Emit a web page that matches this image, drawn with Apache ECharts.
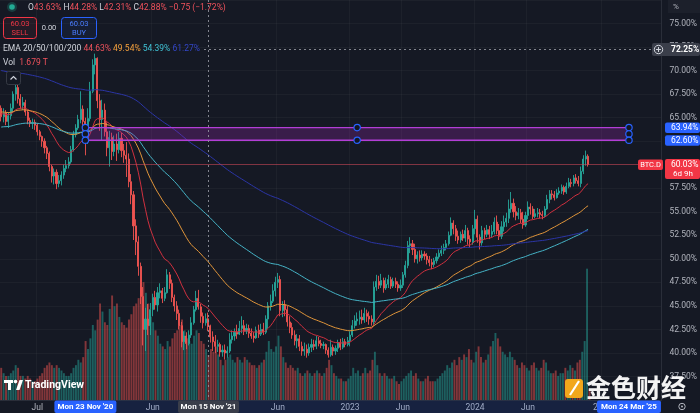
<!DOCTYPE html>
<html>
<head>
<meta charset="utf-8">
<title>BTC.D</title>
<script src="https://cdn.jsdelivr.net/npm/echarts@6.0.0/dist/echarts.min.js"></script>
<style>
html,body{margin:0;padding:0;background:#151924;overflow:hidden;}
#chart{width:700px;height:413px;}
</style>
</head>
<body>
<div id="chart"></div>
<script>
// ---------------- data ----------------
const startWeek = '2020-03-23';
const totalWeeks = 275;
const firstOpen = 66.0;
const closes = [
65.1,65.5,64.6,65.2,66.0,67.5,68.2,67.0,66.3,66.6,
65.6,64.7,64.4,64.5,64.2,63.5,63.0,62.5,61.8,61.2,
59.8,58.8,59.2,58.0,58.3,58.9,59.6,59.9,60.3,61.6,
63.2,63.9,64.8,65.9,64.6,62.6,64.9,67.8,70.6,71.3,
66.8,64.8,65.8,63.5,61.8,62.9,61.4,62.2,61.6,62.8,
61.5,61.0,60.6,58.2,56.8,53.5,51.8,49.2,46.0,42.5,
43.6,42.9,44.6,45.9,45.1,46.4,46.6,45.8,46.4,48.3,
47.4,45.9,45.0,44.2,42.9,41.2,41.8,41.0,41.9,43.2,
44.6,45.8,44.9,43.9,43.2,43.63,42.88,41.7,41.2,40.7,
40.9,40.1,40.3,40.0,40.2,41.4,41.8,42.2,42.0,42.6,
42.9,42.3,42.6,42.1,41.8,41.6,42.4,42.0,42.5,42.2,
43.6,45.0,45.5,46.6,47.5,47.8,44.5,45.1,44.6,43.3,
42.7,41.9,41.3,41.5,40.7,40.2,40.4,40.0,40.6,40.9,
40.7,41.3,41.0,40.8,40.9,40.3,39.8,40.6,40.2,40.5,
41.1,40.6,41.2,40.9,41.3,41.9,42.9,43.4,43.6,43.8,
43.5,44.2,43.9,43.6,43.3,47.0,47.6,47.2,47.7,46.9,
47.3,47.8,47.1,47.6,47.3,46.9,47.2,48.3,49.3,51.4,
51.6,51.0,50.0,50.4,50.1,50.5,50.3,49.9,49.6,49.4,
49.8,50.2,50.6,50.9,51.2,51.6,52.5,53.8,53.2,52.4,
52.0,52.6,52.2,53.0,52.1,51.8,53.2,54.2,52.3,51.7,
53.0,52.6,53.1,52.6,52.9,53.9,53.0,52.4,53.4,53.9,
54.3,55.3,55.9,55.0,54.6,54.9,54.2,53.6,54.6,55.5,
55.3,54.5,54.8,54.9,54.7,54.6,55.3,56.3,56.9,56.8,
56.5,57.0,57.2,57.6,57.1,57.7,58.1,58.0,58.6,58.3,
58.0,59.3,60.6,60.9,60.03];
const highs = [
66.3,66.0,65.8,65.6,66.5,67.8,68.7,68.9,67.5,67.2,
66.9,65.8,65.0,64.9,64.8,64.4,63.7,63.1,62.8,62.0,
61.4,60.0,59.6,59.5,58.9,59.3,60.0,60.5,60.8,62.0,
63.6,64.3,65.3,67.8,66.3,65.0,66.0,68.8,71.2,71.8,
71.4,67.5,66.9,66.5,64.5,63.6,63.4,63.1,63.3,63.5,
63.4,62.2,62.4,61.2,59.0,57.2,54.2,52.4,49.6,47.0,
44.8,45.2,45.3,46.3,46.6,47.0,47.4,46.9,47.0,48.9,
48.6,47.8,46.2,45.5,44.6,43.3,42.3,42.2,42.4,43.8,
45.0,46.6,46.7,45.2,44.3,44.2,44.28,43.0,42.3,41.9,
41.4,41.1,40.8,40.9,40.7,42.1,42.4,42.6,43.0,43.4,
43.9,43.5,43.1,43.0,42.6,42.2,42.8,43.0,43.1,43.2,
44.0,45.4,46.2,47.3,48.1,48.5,48.2,45.5,45.6,45.0,
43.9,43.2,42.4,42.0,41.9,41.2,41.1,40.9,41.0,41.5,
41.4,41.8,41.7,41.4,41.2,41.0,40.6,41.4,40.9,40.8,
41.4,41.5,41.6,41.5,41.7,42.3,43.5,44.0,44.3,44.5,
44.6,44.8,44.6,44.4,44.0,47.6,48.3,48.2,48.4,48.0,
48.0,48.3,48.1,48.0,48.0,47.6,47.8,48.6,49.8,51.9,
52.3,52.0,51.6,50.8,50.9,50.9,50.8,50.6,50.3,50.0,
50.1,50.6,51.0,51.4,51.6,52.0,52.9,54.4,54.1,53.6,
53.0,52.9,53.1,53.6,53.3,52.5,53.6,55.2,54.6,52.6,
53.5,53.3,53.6,53.5,53.6,54.4,54.6,53.7,54.0,54.6,
54.9,56.3,57.1,56.4,55.6,55.4,55.3,55.0,55.0,56.1,
55.9,55.6,55.3,55.4,55.3,55.1,55.6,56.8,57.3,57.3,
57.2,57.4,57.6,57.9,57.8,58.1,58.6,58.5,58.9,59.0,
58.8,59.8,61.0,61.5,61.1];
const lows = [
64.6,64.5,64.2,63.9,64.8,65.5,66.8,66.5,65.9,65.8,
65.2,64.3,64.0,63.8,63.7,63.1,62.6,61.9,61.2,60.6,
59.3,58.1,57.9,57.4,57.6,57.8,58.5,59.2,59.6,60.1,
61.4,62.9,63.7,64.4,63.6,61.0,62.2,64.6,67.6,69.6,
66.0,63.6,62.6,63.0,60.9,59.8,60.5,60.9,60.4,61.2,
60.8,60.2,58.7,57.6,55.8,52.0,50.4,48.2,45.2,40.8,
40.2,41.9,41.9,43.9,44.6,44.4,45.8,45.3,45.5,46.3,
46.8,45.4,44.4,43.5,42.5,40.6,40.3,40.4,40.8,41.6,
43.0,44.4,44.6,43.2,42.6,42.9,42.31,41.1,40.2,40.0,
40.1,39.6,39.6,39.3,39.5,40.0,41.0,41.3,41.5,41.9,
42.1,41.9,42.0,41.6,41.5,41.1,41.5,41.6,41.8,41.9,
42.0,42.6,44.5,45.3,46.0,46.9,43.9,43.8,43.9,42.8,
42.1,41.5,40.8,40.5,40.2,39.7,39.7,39.5,39.7,40.1,
40.3,40.4,40.7,40.5,40.4,39.9,39.5,39.6,39.7,39.8,
40.1,40.3,40.4,40.6,40.7,40.7,41.7,42.6,42.9,43.0,
43.1,43.2,43.3,43.0,42.9,43.0,46.6,46.8,46.9,46.4,
46.7,46.9,46.8,46.9,46.9,46.5,46.6,46.9,48.0,49.0,
50.6,50.4,49.6,49.5,49.7,49.8,49.9,49.4,49.2,48.9,
49.1,49.5,50.0,50.3,50.5,50.9,51.4,52.4,52.6,51.9,
51.6,51.7,51.9,51.8,51.5,51.2,51.5,52.6,51.7,51.0,
51.4,52.1,52.3,52.1,52.3,52.6,52.6,52.0,52.1,52.9,
53.4,53.8,54.9,54.4,54.1,54.2,53.8,53.2,53.4,54.2,
54.7,54.2,54.3,54.4,54.3,54.2,54.4,55.2,55.9,56.3,
56.2,56.4,56.8,56.9,56.8,56.9,57.5,57.6,57.7,58.0,
57.7,57.6,59.0,59.9,59.8];
// weekly volume, in T
const volumes = [
1.2,1.0,0.9,0.9,1.0,1.1,1.3,1.2,0.9,0.9,
0.8,0.9,0.8,0.7,0.7,0.8,0.9,1.0,1.2,1.3,
1.4,1.3,1.2,1.3,1.2,1.1,1.0,0.9,0.9,1.0,
1.2,1.3,1.5,1.4,1.6,2.2,1.9,2.3,2.8,2.6,
3.0,3.6,3.3,2.9,2.8,3.4,3.9,3.5,3.6,3.1,
2.9,2.8,2.7,3.0,3.2,3.5,3.6,3.8,4.2,4.4,
4.0,3.6,3.1,2.9,2.6,2.4,2.1,2.0,1.9,2.2,
2.0,2.3,2.5,2.6,2.8,3.0,2.6,2.3,2.2,2.1,
2.4,2.6,2.5,2.2,2.1,1.9,1.679,1.9,1.8,2.0,
1.7,1.5,1.3,1.5,1.6,1.7,1.5,1.4,1.6,1.5,
1.4,1.6,1.5,1.4,1.3,1.3,1.2,1.3,1.4,1.5,
1.8,2.2,1.9,1.8,2.0,2.4,2.0,1.6,1.4,1.2,
1.3,1.2,1.1,1.2,1.0,0.9,1.0,1.1,1.0,0.9,
1.0,1.1,1.0,0.9,1.0,1.2,1.5,1.3,1.0,0.9,
0.8,0.8,0.7,0.7,0.8,0.9,1.2,1.0,1.1,0.9,
1.0,1.2,1.0,1.1,1.5,1.8,1.3,1.0,0.9,1.0,
0.9,0.8,0.8,0.9,0.7,0.6,0.7,0.8,0.9,1.0,
1.1,0.9,1.0,0.8,0.7,0.7,0.8,0.9,0.7,0.7,
0.7,0.8,0.9,1.0,1.1,1.3,1.2,1.4,1.5,1.3,
1.6,1.5,1.7,1.6,1.9,1.5,1.4,1.8,2.0,1.6,
1.4,1.5,1.7,2.0,2.2,2.5,2.3,2.0,1.8,1.7,
1.6,1.8,1.6,1.5,1.3,1.2,1.4,1.3,1.2,1.1,
1.3,1.4,1.2,1.1,1.2,1.5,1.4,1.1,1.0,1.0,
1.1,0.9,1.0,1.0,1.2,1.1,1.3,1.2,1.1,1.4,
1.5,1.8,2.2,4.9,0.4];
const emaPeriods = [20, 50, 100, 200];
const emaSeeds = [65.4, 65.6, 64.0, 70.0];
const emaLegendValues = ['44.63%', '49.54%', '54.39%', '61.27%'];
const priceTicks = [37.5, 40, 42.5, 45, 47.5, 50, 52.5, 55, 57.5, 60, 62.5, 65, 67.5, 70, 72.5, 75];
const timeLabelDates = ['2020-07-06', '2021-06-07', '2022-06-06', '2023-01-02', '2023-06-05', '2024-01-01', '2024-06-03', '2025-01-06'];
const timeLabelTexts = ['Jul', 'Jun', 'Jun', '2023', 'Jun', '2024', 'Jun', '2025'];
const rectStart = '2020-11-23', rectEnd = '2025-03-24';
const rectTop = 63.94, rectBottom = 62.60;
const crossDate = '2021-11-15', crossValue = 72.25;
const lastPrice = 60.03;
const lastCountdown = '6d 9h';
const spreadText = '0.00';
const volumeLegend = '1.679 T';
const symbolName = 'BTC.D';

// ---------------- build ----------------
const FONT = 'Roboto, "Noto Sans", "DejaVu Sans", sans-serif';
const UP = '#26a69a', DOWN = '#ef5350';
const t0 = new Date(startWeek + 'T00:00:00Z').getTime();
const cats = [];
for (let i = 0; i < totalWeeks; i++) cats.push(new Date(t0 + i * 7 * 86400000).toISOString().slice(0, 10));
const opens = closes.map((c, i) => i === 0 ? firstOpen : closes[i - 1]);
const candleData = closes.map((c, i) => [opens[i], c, lows[i], highs[i]]);
const volData = volumes.map((v, i) => ({
  value: v,
  itemStyle: { color: closes[i] >= opens[i] ? 'rgba(38,166,154,0.5)' : 'rgba(239,83,80,0.5)' }
}));
const emaColors = ['#d0303f', '#e0953a', '#45b3c6', '#2b35a6'];
const emaSeries = emaPeriods.map((p, k) => {
  const a = 2 / (p + 1);
  let e = emaSeeds[k];
  const out = closes.map((c, i) => { if (i > 0) e = e + a * (c - e); return +e.toFixed(3); });
  return {
    type: 'line', xAxisIndex: 0, yAxisIndex: 0, data: out, symbol: 'none', showSymbol: false,
    lineStyle: { width: 1, color: emaColors[k] }, itemStyle: { color: emaColors[k] }, z: 3, silent: true
  };
});
const labelMap = {};
timeLabelDates.forEach((d, k) => { labelMap[d] = timeLabelTexts[k]; });
const isTick = v => priceTicks.some(t => Math.abs(t - v) < 1e-6);

const chart = echarts.init(document.getElementById('chart'));
chart.setOption({
  animation: false,
  backgroundColor: '#151924',
  grid: [
    { left: -4, right: 37, top: 0, bottom: 13 },
    { left: -4, right: 37, top: 266, bottom: 13 }
  ],
  xAxis: [
    {
      type: 'category', gridIndex: 0, data: cats, boundaryGap: true,
      axisLine: { show: true, lineStyle: { color: '#2a2e39' } },
      axisTick: { show: false },
      axisLabel: {
        interval: (i, v) => v in labelMap, formatter: v => labelMap[v] || '',
        color: '#b2b5be', fontSize: 8.5, fontFamily: FONT, margin: 3
      },
      splitLine: { show: true, interval: (i, v) => v in labelMap, lineStyle: { color: 'rgba(255,255,255,0.035)' } }
    },
    { type: 'category', gridIndex: 1, data: cats, boundaryGap: true, show: false }
  ],
  yAxis: [
    {
      type: 'value', gridIndex: 0, position: 'right', min: 35, max: 77.5, interval: 2.5,
      axisLine: { show: true, lineStyle: { color: '#2a2e39' } },
      axisTick: { show: false },
      axisLabel: {
        color: '#b2b5be', fontSize: 8.5, fontFamily: FONT, margin: 8, align: 'left',
        formatter: v => isTick(v) ? v.toFixed(2) + '%' : ''
      },
      splitLine: { show: true, lineStyle: { color: 'rgba(255,255,255,0.035)' } }
    },
    { type: 'value', gridIndex: 1, min: 0, max: 5, show: false }
  ],
  series: [
    { type: 'bar', xAxisIndex: 1, yAxisIndex: 1, data: volData, barWidth: '80%', z: 1, silent: true },
    {
      type: 'candlestick', xAxisIndex: 0, yAxisIndex: 0, data: candleData, barWidth: '66%', z: 2, silent: true,
      itemStyle: { color: UP, color0: DOWN, borderColor: UP, borderColor0: DOWN, borderWidth: 0.9 }
    }
  ].concat(emaSeries)
});

// ---------------- overlay (drawings, labels, legend) ----------------
const P = (d, v) => chart.convertToPixel({ gridIndex: 0 }, [typeof d === 'string' ? cats.indexOf(d) : d, v]);
const G = [];
function T(x, y, text, o) {
  const s = Object.assign({ text: text, fill: '#b2b5be', fontSize: 8.5, fontFamily: FONT, align: 'left', verticalAlign: 'middle' }, o || {});
  s.textAlign = s.align; s.textVerticalAlign = s.verticalAlign;
  G.push({ type: 'text', x: x, y: y, z: 100, silent: true, style: s });
}
function R(x, y, w, h, style, r) { G.push({ type: 'rect', z: 99, silent: true, shape: { x: x, y: y, width: w, height: h, r: r || 0 }, style: style }); }
function L(x1, y1, x2, y2, style) { G.push({ type: 'line', z: 98, silent: true, shape: { x1: x1, y1: y1, x2: x2, y2: y2 }, style: style }); }
function C(cx, cy, r, style, z) { G.push({ type: 'circle', z: z || 101, silent: true, shape: { cx: cx, cy: cy, r: r }, style: style }); }

const MON = ['Jan','Feb','Mar','Apr','May','Jun','Jul','Aug','Sep','Oct','Nov','Dec'];
const DAY = ['Sun','Mon','Tue','Wed','Thu','Fri','Sat'];
function fmtDate(s) {
  const d = new Date(s + 'T00:00:00Z');
  return DAY[d.getUTCDay()] + ' ' + d.getUTCDate() + ' ' + MON[d.getUTCMonth()] + " '" + String(d.getUTCFullYear()).slice(2);
}

const plotBottom = 400;
// last price line
const lpY = Math.round(P(0, lastPrice)[1]) + 0.5;
L(0, lpY, 638, lpY, { stroke: 'rgba(210,70,85,0.55)', lineWidth: 1 });

// crosshair
const cpt = P(crossDate, crossValue);
const cx = Math.round(cpt[0]) + 0.5, cy = Math.round(cpt[1]) + 0.5;
L(cx, 0, cx, plotBottom, { stroke: 'rgba(149,152,161,0.85)', lineWidth: 1, lineDash: [2, 3] });
L(204, cy, 652, cy, { stroke: 'rgba(149,152,161,0.85)', lineWidth: 1, lineDash: [2, 3] });

// rectangle drawing
const a = P(rectStart, rectTop), b = P(rectEnd, rectBottom);
const rx1 = a[0], rx2 = b[0], ry1 = a[1], ry2 = b[1];
G.push({ type: 'rect', z: 97, silent: true, shape: { x: rx1, y: ry1, width: rx2 - rx1, height: ry2 - ry1 },
  style: { fill: 'rgba(156,39,176,0.27)', stroke: '#b23ed6', lineWidth: 1.4 } });
const hStyle = { fill: '#131722', stroke: '#2962ff', lineWidth: 1.2 };
[[rx1, ry1], [rx1, (ry1 + ry2) / 2], [rx1, ry2], [rx2, ry1], [rx2, (ry1 + ry2) / 2], [rx2, ry2], [(rx1 + rx2) / 2, ry1], [(rx1 + rx2) / 2, ry2]]
  .forEach(p => C(p[0], p[1], 3.2, hStyle));

// price axis labels
R(668, 0, 32, 13, { fill: '#1c202b' });
T(673, 7, '%', { fill: '#b2b5be', fontSize: 8 });
R(652, cy - 6.5, 48, 13, { fill: '#3a3e4a' }, 2);
C(658.5, cy, 4.2, { fill: 'none', stroke: '#d1d4dc', lineWidth: 1 }, 102);
L(656, cy, 661, cy, { stroke: '#d1d4dc', lineWidth: 1 }); G[G.length - 1].z = 102;
L(658.5, cy - 2.5, 658.5, cy + 2.5, { stroke: '#d1d4dc', lineWidth: 1 }); G[G.length - 1].z = 102;
T(671, cy, crossValue.toFixed(2) + '%', { fill: '#ffffff', fontWeight: 'bold' });
const tY = P(0, rectTop)[1], bY = P(0, rectBottom)[1];
R(665, tY - 5, 35, 10.5, { fill: '#2962ff' }, 2);
T(671, tY + 0.3, rectTop.toFixed(2) + '%', { fill: '#ffffff' });
R(665, bY - 5, 35, 10.5, { fill: '#2962ff' }, 2);
T(671, bY + 0.3, rectBottom.toFixed(2) + '%', { fill: '#ffffff' });
R(665, lpY - 5.5, 35, 20, { fill: '#f23645' }, 2);
T(671, lpY, lastPrice.toFixed(2) + '%', { fill: '#ffffff' });
T(673, lpY + 9, lastCountdown, { fill: '#ffffff', fontSize: 8 });
R(638, lpY - 5, 25, 10.5, { fill: '#f23645' }, 2);
T(650.5, lpY + 0.3, symbolName, { fill: '#ffffff', fontSize: 7.5, align: 'center' });

// time axis highlights
R(rx1, plotBottom + 0.5, rx2 - rx1, 12.5, { fill: 'rgba(41,98,255,0.13)' });
function timeBox(x, w, txt, fill) {
  R(x - w / 2, plotBottom + 0.5, w, 12.5, { fill: fill }, 2);
  T(x, plotBottom + 7, txt, { fill: '#ffffff', fontSize: 8, align: 'center', fontWeight: 'bold' });
}
timeBox(rx1, 62, fmtDate(rectStart), '#2962ff');
timeBox(cx, 61, fmtDate(crossDate), '#3a3e4a');
timeBox(rx2, 64, fmtDate(rectEnd), '#2962ff');
C(682, 406.5, 3.2, { fill: 'none', stroke: '#b2b5be', lineWidth: 1 });
C(682, 406.5, 1, { fill: '#b2b5be' });

// header legend
const ci = cats.indexOf(crossDate);
const o = opens[ci], h = highs[ci], l = lows[ci], c = closes[ci];
const chg = c - o, pct = chg / o * 100;
const sgn = v => (v < 0 ? '\u2212' : '+') + Math.abs(v).toFixed(2);
C(12, 7, 5, { fill: 'rgba(34,171,148,0.25)' });
C(12, 7, 2.8, { fill: '#22ab94' });
const rich = {
  g: { fill: '#d1d4dc', fontSize: 8.5, fontFamily: FONT },
  r: { fill: '#f0525c', fontSize: 8.5, fontFamily: FONT },
  o: { fill: '#f5a03c', fontSize: 8.5, fontFamily: FONT },
  c: { fill: '#3fc1d4', fontSize: 8.5, fontFamily: FONT },
  b: { fill: '#3346c8', fontSize: 8.5, fontFamily: FONT }
};
T(28, 7.5, '{g|O}{r|' + o.toFixed(2) + '%} {g|H}{r|' + h.toFixed(2) + '%} {g|L}{r|' + l.toFixed(2) + '%} {g|C}{r|' + c.toFixed(2) + '%} {r|' + sgn(chg) + ' (' + sgn(pct) + '%)}', { rich: rich });
R(3.5, 17.5, 33, 21, { fill: 'rgba(242,54,69,0.07)', stroke: '#f23645', lineWidth: 1 }, 3);
T(20, 24, lastPrice.toFixed(2), { fill: '#f23645', fontSize: 7.5, align: 'center' });
T(20, 33, 'SELL', { fill: '#f23645', fontSize: 7.5, align: 'center' });
T(49, 28, spreadText, { fill: '#d1d4dc', fontSize: 7.5, align: 'center' });
R(61.5, 17.5, 35, 21, { fill: 'rgba(41,98,255,0.07)', stroke: '#2962ff', lineWidth: 1 }, 3);
T(79, 24, lastPrice.toFixed(2), { fill: '#4a7dff', fontSize: 7.5, align: 'center' });
T(79, 33, 'BUY', { fill: '#4a7dff', fontSize: 7.5, align: 'center' });
T(3, 49, '{g|EMA 20/50/100/200} {r|' + emaLegendValues[0] + '} {o|' + emaLegendValues[1] + '} {c|' + emaLegendValues[2] + '} {b|' + emaLegendValues[3] + '}', { rich: rich });
T(3, 63, '{g|Vol}  {r|' + volumeLegend + '}', { rich: rich });
R(6.5, 71.5, 14, 13, { fill: '#151924', stroke: '#363a45', lineWidth: 1 }, 2);
G.push({ type: 'polyline', z: 101, silent: true, shape: { points: [[10.5, 79.5], [13.5, 76.5], [16.5, 79.5]] }, style: { stroke: '#d1d4dc', lineWidth: 1.2, fill: 'none' } });

// TradingView logo
R(4, 380, 9, 3, { fill: '#ffffff' });
R(8, 380, 3, 10, { fill: '#ffffff' });
C(15.5, 381.6, 1.8, { fill: '#ffffff' });
G.push({ type: 'polygon', z: 101, silent: true, shape: { points: [[16, 390], [19.5, 380], [23, 380], [19.5, 390]] }, style: { fill: '#ffffff' } });
T(25, 385.5, 'TradingView', { fill: '#ffffff', fontSize: 10.5, fontWeight: 'bold' });

// watermark
R(565, 379, 18, 19, { fill: '#f2a71b' }, 3);
L(570, 395, 579, 381, { stroke: '#ffffff', lineWidth: 2.2 }); G[G.length - 1].z = 101;
T(586, 387, '金色财经', { fill: 'rgba(255,255,255,0.95)', fontSize: 25, fontWeight: 'bold', fontFamily: '"Noto Sans CJK SC", sans-serif' });

chart.setOption({ graphic: { elements: G } });
</script>
</body>
</html>
